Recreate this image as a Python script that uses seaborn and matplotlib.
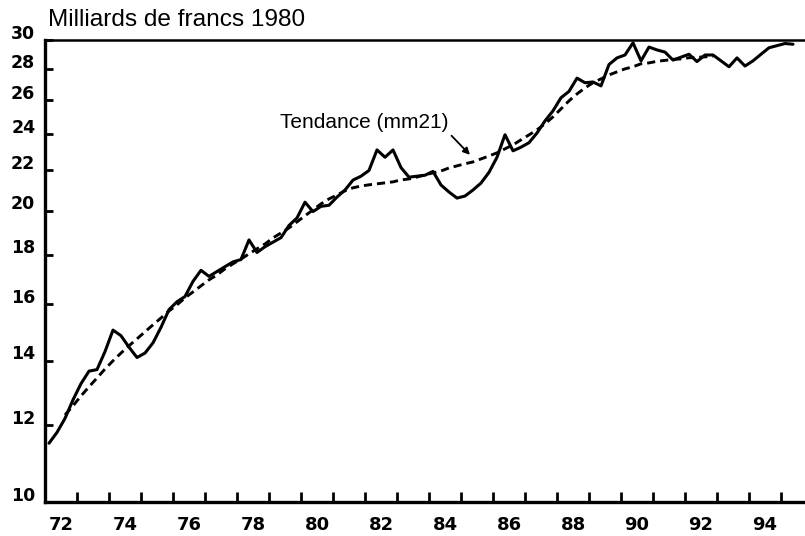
import numpy as np
import pandas as pd
import matplotlib
matplotlib.use("Agg")
import matplotlib.pyplot as plt
import matplotlib.transforms as mtransforms
from matplotlib.ticker import FixedLocator, NullLocator
import seaborn as sns

# Quarterly series, 1972Q1 - 1995Q2, billions of 1980 francs
annee_debut = 1972
serie = [
    11.5, 11.8, 12.2, 12.75, 13.25, 13.65, 13.7, 14.3, 15.05, 14.85,
    14.45, 14.1, 14.25, 14.6, 15.15, 15.8, 16.1, 16.3, 16.9, 17.35,
    17.1, 17.3, 17.5, 17.7, 17.8, 18.65, 18.1, 18.35, 18.55, 18.75,
    19.3, 19.65, 20.4, 19.95, 20.2, 20.25, 20.65, 21.0, 21.5, 21.7,
    22.0, 23.1, 22.7, 23.1, 22.15, 21.65, 21.7, 21.75, 21.95, 21.25,
    20.9, 20.6, 20.7, 21.0, 21.35, 21.9, 22.7, 23.95, 23.05, 23.25,
    23.5, 24.05, 24.75, 25.35, 26.15, 26.55, 27.4, 27.1, 27.15, 26.9,
    28.3, 28.75, 28.95, 29.8, 28.55, 29.5, 29.3, 29.15, 28.6, 28.8,
    29.0, 28.5, 28.95, 28.95, 28.55, 28.15, 28.75, 28.2, 28.55, 29.0,
    29.45, 29.6, 29.75, 29.7,
]

# 21-term centred moving average (trend), starting at quarter index 2
tendance_debut = 2
tendance = [
    12.30, 12.57, 12.87, 13.15, 13.43, 13.72, 13.99, 14.25, 14.50, 14.74,
    14.99, 15.24, 15.49, 15.75, 15.98, 16.25, 16.48, 16.72, 16.96, 17.16,
    17.41, 17.62, 17.82, 18.04, 18.26, 18.47, 18.74, 18.96, 19.19, 19.47,
    19.75, 20.03, 20.32, 20.56, 20.75, 20.96, 21.11, 21.20, 21.26, 21.31,
    21.36, 21.41, 21.51, 21.56, 21.66, 21.77, 21.87, 21.97, 22.13, 22.24,
    22.35, 22.45, 22.61, 22.77, 22.94, 23.16, 23.38, 23.66, 23.94, 24.23,
    24.58, 24.99, 25.47, 25.96, 26.39, 26.77, 27.10, 27.35, 27.61, 27.81,
    28.01, 28.15, 28.35, 28.41, 28.52, 28.58, 28.65, 28.68, 28.76, 28.79,
    28.82, 28.86,
]

y_ticks = [10, 12, 14, 16, 18, 20, 22, 24, 26, 28, 30]
x_labels = ["72", "74", "76", "78", "80", "82", "84", "86", "88", "90", "92", "94"]

titre = "Milliards de francs 1980"
legende_tendance = "Tendance (mm21)"

# quarter midpoints on a decimal-year axis
df_serie = pd.DataFrame({
    "annee": annee_debut + (np.arange(len(serie)) + 0.5) / 4,
    "valeur": serie,
})
df_tend = pd.DataFrame({
    "annee": annee_debut + (np.arange(len(tendance)) + tendance_debut + 0.5) / 4,
    "valeur": tendance,
})

sns.set_theme(style="ticks")
plt.rcParams["font.family"] = ["Liberation Sans", "DejaVu Sans"]

fig = plt.figure(figsize=(8.05, 5.36), dpi=100)
ax = fig.add_axes([45 / 805, 34 / 536, 760 / 805, 462 / 536])

sns.lineplot(data=df_serie, x="annee", y="valeur", ax=ax, color="black",
             linewidth=2.2, estimator=None, sort=True)
sns.lineplot(data=df_tend, x="annee", y="valeur", ax=ax, color="black",
             linewidth=2.1, linestyle=(0, (2.8, 1.7)), estimator=None, sort=True)

ax.set_yscale("log")
ax.set_ylim(10, 30)
ax.set_xlim(1972, 1995.75)
ax.set_xlabel("")
ax.set_ylabel("")

# y axis: labelled ticks on a log scale
ax.yaxis.set_major_locator(FixedLocator(y_ticks))
ax.yaxis.set_minor_locator(NullLocator())
ax.set_yticklabels([str(v) for v in y_ticks], fontweight="bold",
                   family="DejaVu Sans", fontsize=12.5)
ax.tick_params(axis="y", which="major", direction="in", length=6, width=2,
               pad=7, colors="black")
lift = mtransforms.ScaledTranslation(0, 6 / 72, fig.dpi_scale_trans)
for lab in ax.get_yticklabels():
    lab.set_transform(lab.get_transform() + lift)

# x axis: ticks at year boundaries, labels centred on even years
ax.xaxis.set_major_locator(FixedLocator(np.arange(1973, 1996)))
ax.xaxis.set_minor_locator(FixedLocator(np.arange(1972.5, 1995, 2)))
ax.xaxis.set_major_formatter(plt.NullFormatter())
ax.set_xticklabels(x_labels, minor=True, fontweight="bold",
                   family="DejaVu Sans", fontsize=13)
ax.tick_params(axis="x", which="major", direction="in", length=7, width=2,
               colors="black")
ax.tick_params(axis="x", which="minor", length=0, pad=10, colors="black")

for side in ("left", "bottom"):
    ax.spines[side].set_linewidth(2.4)
    ax.spines[side].set_color("black")
ax.spines["top"].set_visible(True)
ax.spines["top"].set_linewidth(1.8)
ax.spines["top"].set_color("black")
ax.spines["right"].set_visible(False)

fig.text(48 / 805, 1 - 20 / 536, titre, fontsize=17.6, va="center", ha="left",
         color="black")

ax.annotate(legende_tendance, xy=(1985.28, 22.83), xytext=(1979.34, 24.63),
            fontsize=15, va="center", ha="left", color="black",
            arrowprops=dict(arrowstyle="-|>", color="black", lw=1.3,
                            shrinkA=0, shrinkB=0, mutation_scale=10,
                            relpos=(1.0, 0.0)))

fig.savefig("out.png", dpi=100, facecolor="white")
